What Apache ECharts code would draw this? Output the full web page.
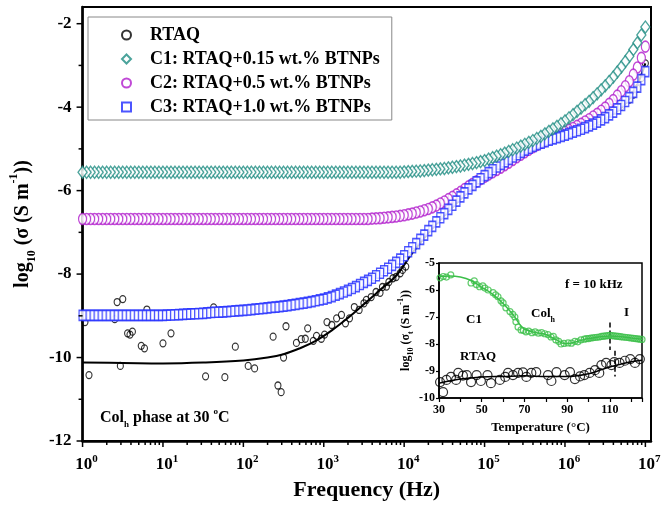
<!DOCTYPE html>
<html><head><meta charset="utf-8">
<script src="https://cdn.jsdelivr.net/npm/echarts@6/dist/echarts.min.js"></script>
<style>html,body{margin:0;padding:0;background:#fff}#c{width:664px;height:507px}</style>
</head><body><div id="c"></div>
<script>
// ---------- main plot data (x = log10 frequency) ----------
const logFreq = [0.00,0.05,0.10,0.15,0.20,0.25,0.30,0.35,0.40,0.45,0.50,0.55,0.60,0.65,0.70,0.75,0.80,0.85,0.90,0.95,
 1.00,1.05,1.10,1.15,1.20,1.25,1.30,1.35,1.40,1.45,1.50,1.55,1.60,1.65,1.70,1.75,1.80,1.85,1.90,1.95,
 2.00,2.05,2.10,2.15,2.20,2.25,2.30,2.35,2.40,2.45,2.50,2.55,2.60,2.65,2.70,2.75,2.80,2.85,2.90,2.95,
 3.00,3.05,3.10,3.15,3.20,3.25,3.30,3.35,3.40,3.45,3.50,3.55,3.60,3.65,3.70,3.75,3.80,3.85,3.90,3.95,
 4.00,4.05,4.10,4.15,4.20,4.25,4.30,4.35,4.40,4.45,4.50,4.55,4.60,4.65,4.70,4.75,4.80,4.85,4.90,4.95,
 5.00,5.05,5.10,5.15,5.20,5.25,5.30,5.35,5.40,5.45,5.50,5.55,5.60,5.65,5.70,5.75,5.80,5.85,5.90,5.95,
 6.00,6.05,6.10,6.15,6.20,6.25,6.30,6.35,6.40,6.45,6.50,6.55,6.60,6.65,6.70,6.75,6.80,6.85,6.90,6.95,7.00];
const c1Vals = [-5.56,-5.56,-5.56,-5.56,-5.56,-5.56,-5.56,-5.56,-5.56,-5.56,-5.56,-5.56,-5.56,-5.56,-5.56,-5.56,-5.56,-5.56,-5.56,-5.56,
 -5.56,-5.56,-5.56,-5.56,-5.56,-5.56,-5.56,-5.56,-5.56,-5.56,-5.56,-5.56,-5.56,-5.56,-5.56,-5.56,-5.56,-5.56,-5.56,-5.56,
 -5.56,-5.56,-5.56,-5.56,-5.56,-5.56,-5.56,-5.56,-5.56,-5.56,-5.56,-5.56,-5.56,-5.56,-5.56,-5.56,-5.56,-5.56,-5.56,-5.56,
 -5.56,-5.56,-5.56,-5.56,-5.56,-5.56,-5.56,-5.56,-5.56,-5.56,-5.56,-5.56,-5.56,-5.56,-5.56,-5.56,-5.56,-5.56,-5.56,-5.56,
 -5.55,-5.545,-5.54,-5.535,-5.53,-5.52,-5.51,-5.50,-5.49,-5.48,-5.47,-5.455,-5.44,-5.425,-5.41,-5.39,-5.37,-5.35,-5.33,-5.305,
 -5.28,-5.245,-5.21,-5.175,-5.14,-5.10,-5.06,-5.02,-4.98,-4.935,-4.89,-4.845,-4.80,-4.75,-4.70,-4.64,-4.58,-4.52,-4.46,-4.395,
 -4.33,-4.255,-4.18,-4.10,-4.02,-3.94,-3.86,-3.77,-3.68,-3.585,-3.49,-3.385,-3.28,-3.16,-3.04,-2.91,-2.78,-2.62,-2.46,-2.27,-2.08];
const c2Vals = [-6.68,-6.68,-6.68,-6.68,-6.68,-6.68,-6.68,-6.68,-6.68,-6.68,-6.68,-6.68,-6.68,-6.68,-6.68,-6.68,-6.68,-6.68,-6.68,-6.68,
 -6.68,-6.68,-6.68,-6.68,-6.68,-6.68,-6.68,-6.68,-6.68,-6.68,-6.68,-6.68,-6.68,-6.68,-6.68,-6.68,-6.68,-6.68,-6.68,-6.68,
 -6.68,-6.68,-6.68,-6.68,-6.68,-6.68,-6.68,-6.68,-6.68,-6.68,-6.68,-6.68,-6.68,-6.68,-6.68,-6.68,-6.68,-6.68,-6.68,-6.68,
 -6.68,-6.68,-6.68,-6.68,-6.68,-6.68,-6.68,-6.68,-6.68,-6.68,-6.68,-6.68,-6.67,-6.665,-6.66,-6.65,-6.64,-6.63,-6.62,-6.605,
 -6.59,-6.57,-6.55,-6.525,-6.50,-6.47,-6.44,-6.40,-6.36,-6.31,-6.26,-6.205,-6.15,-6.09,-6.03,-5.965,-5.90,-5.84,-5.78,-5.725,
 -5.67,-5.615,-5.56,-5.505,-5.45,-5.39,-5.33,-5.265,-5.20,-5.14,-5.08,-5.02,-4.96,-4.91,-4.86,-4.815,-4.77,-4.725,-4.68,-4.635,
 -4.59,-4.545,-4.50,-4.45,-4.40,-4.345,-4.29,-4.225,-4.16,-4.085,-4.01,-3.92,-3.83,-3.725,-3.62,-3.50,-3.38,-3.22,-3.05,-2.82,-2.55];
const c3Vals = [-8.99,-8.99,-8.99,-8.99,-8.99,-8.99,-8.99,-8.99,-8.99,-8.99,-8.99,-8.99,-8.99,-8.99,-8.99,-8.99,-8.99,-8.99,-8.99,-8.99,
 -8.99,-8.985,-8.98,-8.975,-8.97,-8.965,-8.96,-8.955,-8.95,-8.945,-8.94,-8.93,-8.92,-8.915,-8.91,-8.905,-8.90,-8.89,-8.88,-8.875,
 -8.87,-8.86,-8.85,-8.84,-8.83,-8.82,-8.81,-8.80,-8.79,-8.78,-8.77,-8.755,-8.74,-8.725,-8.71,-8.695,-8.68,-8.66,-8.64,-8.62,
 -8.60,-8.57,-8.54,-8.505,-8.47,-8.43,-8.39,-8.345,-8.30,-8.25,-8.20,-8.15,-8.10,-8.04,-7.98,-7.92,-7.86,-7.79,-7.72,-7.64,
 -7.56,-7.465,-7.37,-7.27,-7.17,-7.065,-6.96,-6.855,-6.75,-6.65,-6.55,-6.45,-6.35,-6.25,-6.15,-6.055,-5.96,-5.875,-5.79,-5.715,
 -5.64,-5.57,-5.50,-5.435,-5.37,-5.31,-5.25,-5.195,-5.14,-5.085,-5.03,-4.985,-4.94,-4.90,-4.86,-4.825,-4.79,-4.76,-4.73,-4.70,
 -4.67,-4.635,-4.60,-4.565,-4.53,-4.49,-4.45,-4.405,-4.36,-4.305,-4.25,-4.185,-4.12,-4.04,-3.96,-3.865,-3.77,-3.645,-3.52,-3.34,-3.15];
const rtaqLogF = [0.03,0.08,0.40,0.43,0.50,0.47,0.56,0.62,0.59,0.73,0.77,0.80,1.00,1.10,1.53,1.63,1.77,1.90,2.06,2.14,2.37,2.43,2.47,2.50,2.53,2.66,2.72,2.77,2.80,2.87,2.91,2.97,3.01,3.04,3.10,3.16,3.22,3.27,3.32,3.38,3.44,3.50,3.53,3.59,3.65,3.70,3.73,3.78,3.81,3.86,3.90,3.95,3.98,4.02,6.70,6.80,6.85,6.90,6.95,7.00];
const rtaqVals = [-9.15,-10.42,-9.08,-8.67,-8.60,-10.20,-9.42,-9.38,-9.45,-9.72,-9.78,-8.85,-9.66,-9.42,-10.45,-8.80,-10.47,-9.74,-10.20,-10.26,-9.50,-10.67,-10.83,-10.00,-9.25,-9.65,-9.56,-9.55,-9.30,-9.60,-9.48,-9.55,-9.45,-9.15,-9.22,-9.06,-8.98,-9.18,-9.06,-8.79,-8.86,-8.70,-8.62,-8.55,-8.43,-8.45,-8.31,-8.30,-8.19,-8.10,-8.07,-7.98,-7.90,-7.82,-3.98,-3.82,-3.70,-3.55,-3.30,-2.95];
const rtaqFitLogF = [0,0.5,1.0,1.5,2.0,2.3,2.5,2.7,2.9,3.1,3.3,3.5,3.7,3.9,4.1,4.3,4.5,4.8,5.0,5.5,6.0,6.5,6.8,7.0];
const rtaqFitVals = [-10.12,-10.13,-10.14,-10.12,-10.07,-10.0,-9.92,-9.78,-9.6,-9.35,-9.05,-8.72,-8.38,-8.04,-7.5,-7.02,-6.6,-6.02,-5.7,-5.08,-4.7,-4.28,-3.8,-2.95];
const xTickDecades = [0,1,2,3,4,5,6,7];
const yTickValues = [-12,-10,-8,-6,-4,-2];
const yMinorValues = [-11,-9,-7,-5,-3];

// ---------- inset data (x = temperature) ----------
const insetC1T = [30.5,32,33.5,35.5,45,46.5,47.5,49,50.5,51.5,53,55.3,56.5,57.6,59,60,61.3,63.2,64.5,65.5,66,67,68.4,69.5,70.7,72,73.5,75,76.5,78,79.5,81,82.4,83.5,84.7,86,87.1,88.5,90.4,92,93.6,95,96.4,98,99,100,101,102,103,104,105,106,107,108,109,110,111,112,113,114,115,116,117,118,119,120,121,122,123,124,125];
const insetC1V = [-5.55,-5.5,-5.52,-5.44,-5.74,-5.66,-5.8,-5.88,-5.85,-5.93,-6.0,-6.1,-6.18,-6.25,-6.4,-6.48,-6.66,-6.8,-6.9,-7.0,-7.18,-7.37,-7.48,-7.5,-7.55,-7.52,-7.58,-7.55,-7.6,-7.58,-7.62,-7.65,-7.74,-7.72,-7.85,-7.9,-8.0,-7.98,-7.96,-7.97,-7.9,-7.92,-7.85,-7.82,-7.8,-7.8,-7.78,-7.77,-7.76,-7.75,-7.74,-7.72,-7.71,-7.7,-7.69,-7.68,-7.69,-7.7,-7.71,-7.72,-7.73,-7.74,-7.75,-7.76,-7.77,-7.78,-7.79,-7.8,-7.81,-7.82,-7.83];
const insetC1FitT = [30,35,40,45,50,55,60,65,68,70,75,80,85,88,90,95,100,110,120,125];
const insetC1FitV = [-5.5,-5.48,-5.52,-5.65,-5.9,-6.15,-6.5,-6.95,-7.3,-7.45,-7.57,-7.65,-7.85,-7.97,-7.98,-7.9,-7.8,-7.7,-7.78,-7.82];
const insetRtaqT = [30.5,31.9,33.5,35.6,38,39,41.2,43,45,47.6,49.6,52.7,54.3,58.5,61,62.3,64.6,67,69.3,70.9,73.2,75.5,81,82.6,85,88.8,91.3,93.6,96,98,100.5,103,105,106,108.2,110.7,112,114.5,117,119.5,121.7,124];
const insetRtaqV = [-9.41,-9.78,-9.33,-9.22,-9.33,-9.07,-9.17,-9.15,-9.41,-9.15,-9.37,-9.15,-9.45,-9.33,-9.22,-9.07,-9.15,-9.07,-9.05,-9.22,-9.07,-9.04,-9.15,-9.37,-9.04,-9.15,-9.04,-9.3,-9.2,-9.15,-9.07,-8.97,-9.07,-8.78,-8.7,-8.78,-8.67,-8.7,-8.62,-8.56,-8.7,-8.56];
const insetRtaqFitT = [30,40,50,60,70,80,90,100,105,110,115,120,125];
const insetRtaqFitV = [-9.45,-9.3,-9.22,-9.2,-9.18,-9.2,-9.2,-9.1,-8.98,-8.85,-8.75,-8.66,-8.6];

const names = ['RTAQ','C1: RTAQ+0.15 wt.% BTNPs','C2: RTAQ+0.5 wt.% BTNPs','C3: RTAQ+1.0 wt.% BTNPs'];
const colors = {rtaq:'#000000', c1:'#1e8c82', c2:'#b01ccc', c3:'#1f2bff', green:'#3cbf4a'};

const FF = "'Liberation Serif','Times New Roman',serif";
const pair = (xs, ys) => xs.map((x, i) => [x, ys[i]]);
// measured as a high-to-low frequency sweep: draw in that order
const sweep = (xs, ys) => pair(xs, ys).reverse();

// tick positions (axis decoration, not data)
const xMinorTicks = [];
xTickDecades.slice(0, 7).forEach(n => { for (let k = 2; k <= 9; k++) xMinorTicks.push([n + Math.log10(k), 4]); });
const xMajorTicks = xTickDecades.map(n => [n, 6]);
const yTicks = yTickValues.map(v => [0, v, 6]).concat(yMinorValues.map(v => [0, v, 4]));

const chart = echarts.init(document.getElementById('c'));
const hollow = (c, w) => ({color: 'rgba(0,0,0,0)', borderColor: c, borderWidth: w});
const open = (c, w) => ({color: '#ffffff', borderColor: c, borderWidth: w});

chart.setOption({
  animation: false,
  backgroundColor: '#fff',
  grid: [
    {left: 81, top: 7, right: 13, bottom: 66, show: true, borderColor: '#000', borderWidth: 2, backgroundColor: 'transparent'},
    {left: 439, top: 263, right: 22, bottom: 109, show: true, borderColor: '#000', borderWidth: 1.5, backgroundColor: '#fff', z: 5}
  ],
  xAxis: [
    {type: 'value', gridIndex: 0, min: 0, max: 7.07, interval: 1,
     axisLine: {show: true, onZero: false, lineStyle: {color: '#000', width: 2.5}},
     axisTick: {show: false}, splitLine: {show: false},
     axisLabel: {margin: 13, padding: [0, 0, 0, 8],
       formatter: v => Math.abs(v - Math.round(v)) < 1e-6 ? '{b|10}{p|' + Math.round(v) + '}' : '',
       rich: {b: {fontFamily: FF, fontWeight: 'bold', fontSize: 17, lineHeight: 22, color: '#000'},
              p: {fontFamily: FF, fontWeight: 'bold', fontSize: 11, lineHeight: 11, verticalAlign: 'top', color: '#000'}}},
     name: 'Frequency (Hz)', nameLocation: 'middle', nameGap: 38,
     nameTextStyle: {fontFamily: FF, fontWeight: 'bold', fontSize: 22, color: '#000'}},
    {type: 'value', gridIndex: 1, min: 30, max: 125, interval: 10, z: 6,
     axisLine: {show: true, onZero: false, lineStyle: {color: '#000', width: 1.5}},
     axisTick: {show: true, length: 4, lineStyle: {color: '#000', width: 1.2}},
     splitLine: {show: false},
     axisLabel: {margin: 6, fontFamily: FF, fontWeight: 'bold', fontSize: 12, color: '#000',
       formatter: v => ((v - 30) % 20 === 0 && v <= 110) ? String(v) : ''},
     name: 'Temperature (°C)', nameLocation: 'middle', nameGap: 23,
     nameTextStyle: {fontFamily: FF, fontWeight: 'bold', fontSize: 13, color: '#000'}}
  ],
  yAxis: [
    {type: 'value', gridIndex: 0, min: -12, max: -1.6, interval: 2,
     axisLine: {show: true, onZero: false, lineStyle: {color: '#000', width: 2.5}},
     axisTick: {show: false}, splitLine: {show: false},
     axisLabel: {margin: 11, fontFamily: FF, fontWeight: 'bold', fontSize: 17, color: '#000',
       formatter: v => (Math.abs(v % 2) < 1e-6) ? String(v) : ''},
     name: 'log{s|10} (σ (S m{p|-1}))', nameLocation: 'middle', nameGap: 35,
     nameTextStyle: {fontFamily: FF, fontWeight: 'bold', fontSize: 20, lineHeight: 30, color: '#000',
       rich: {s: {fontFamily: FF, fontWeight: 'bold', fontSize: 12, lineHeight: 12, verticalAlign: 'bottom', color: '#000'},
              p: {fontFamily: FF, fontWeight: 'bold', fontSize: 12, lineHeight: 12, verticalAlign: 'top', color: '#000'}}}},
    {type: 'value', gridIndex: 1, min: -10, max: -5, interval: 1, z: 6,
     axisLine: {show: true, onZero: false, lineStyle: {color: '#000', width: 1.5}},
     axisTick: {show: true, length: 3, lineStyle: {color: '#000', width: 1.2}},
     splitLine: {show: false},
     axisLabel: {margin: 4, fontFamily: FF, fontWeight: 'bold', fontSize: 12, color: '#000'},
     name: 'log{s|10} (σ{t|t} (S m{p|-1}))', nameLocation: 'middle', nameGap: 22,
     nameTextStyle: {fontFamily: FF, fontWeight: 'bold', fontSize: 12, lineHeight: 18, color: '#000',
       rich: {s: {fontFamily: FF, fontWeight: 'bold', fontSize: 8, lineHeight: 8, verticalAlign: 'bottom', color: '#000'},
              t: {fontFamily: FF, fontWeight: 'bold', fontSize: 8, lineHeight: 8, verticalAlign: 'bottom', color: '#000'},
              p: {fontFamily: FF, fontWeight: 'bold', fontSize: 8, lineHeight: 8, verticalAlign: 'top', color: '#000'}}}}
  ],
  legend: {
    data: names, orient: 'vertical', left: 88, top: 17,
    padding: [8, 12, 3, 33], itemGap: 4, itemWidth: 9, itemHeight: 9,
    borderColor: '#888', borderWidth: 1, backgroundColor: '#fff',
    textStyle: {fontFamily: FF, fontWeight: 'bold', fontSize: 18, lineHeight: 20, color: '#000', padding: [0, 0, 0, 14]}
  },
  graphic: [
    {type: 'text', left: 100, top: 407, z: 20,
     style: {text: 'Col{s|h} phase at 30 {p|o}C', fontFamily: FF, fontWeight: 'bold', fontSize: 16, fill: '#000',
       rich: {s: {fontFamily: FF, fontWeight: 'bold', fontSize: 9, lineHeight: 22, verticalAlign: 'bottom', fill: '#000'},
              p: {fontFamily: FF, fontWeight: 'bold', fontSize: 9, lineHeight: 22, verticalAlign: 'top', fill: '#000'}}}},
    {type: 'text', left: 565, top: 278, z: 20,
     style: {text: 'f = 10 kHz', fontFamily: FF, fontWeight: 'bold', fontSize: 13, fill: '#000'}},
    {type: 'text', left: 466, top: 313, z: 20,
     style: {text: 'C1', fontFamily: FF, fontWeight: 'bold', fontSize: 13, fill: '#000'}},
    {type: 'text', left: 531, top: 307, z: 20,
     style: {text: 'Col{s|h}', fontFamily: FF, fontWeight: 'bold', fontSize: 13, fill: '#000',
       rich: {s: {fontFamily: FF, fontWeight: 'bold', fontSize: 8, lineHeight: 20, verticalAlign: 'bottom', fill: '#000'}}}},
    {type: 'text', left: 624, top: 306, z: 20,
     style: {text: 'I', fontFamily: FF, fontWeight: 'bold', fontSize: 13, fill: '#000'}},
    {type: 'text', left: 460, top: 350, z: 20,
     style: {text: 'RTAQ', fontFamily: FF, fontWeight: 'bold', fontSize: 13, fill: '#000'}}
  ],
  series: [
    // main axis ticks (decoration through the library's scales)
    {type: 'custom', name: 'xticks', xAxisIndex: 0, yAxisIndex: 0, clip: false, silent: true, z: 8,
     data: xMajorTicks.concat(xMinorTicks), encode: {x: 0},
     renderItem: (params, api) => { const p = api.coord([api.value(0), -12]);
       return {type: 'line', shape: {x1: p[0], y1: p[1], x2: p[0], y2: p[1] + api.value(1)}, style: {stroke: '#000', lineWidth: 1.5}}; }},
    {type: 'custom', name: 'yticks', xAxisIndex: 0, yAxisIndex: 0, clip: false, silent: true, z: 8,
     data: yTicks, encode: {x: 0, y: 1},
     renderItem: (params, api) => { const p = api.coord([0, api.value(1)]);
       return {type: 'line', shape: {x1: p[0] - api.value(2), y1: p[1], x2: p[0], y2: p[1]}, style: {stroke: '#000', lineWidth: 1.5}}; }},
    {type: 'line', name: 'RTAQ fit', xAxisIndex: 0, yAxisIndex: 0, data: pair(rtaqFitLogF, rtaqFitVals),
     showSymbol: false, symbol: 'none', smooth: 0.4, lineStyle: {color: '#000', width: 2}, z: 2, silent: true},
    {type: 'scatter', name: names[0], xAxisIndex: 0, yAxisIndex: 0, data: pair(rtaqLogF, rtaqVals),
     symbol: 'circle', symbolSize: [6, 7], itemStyle: hollow(colors.rtaq, 1.2), z: 2},
    {type: 'scatter', name: names[2], xAxisIndex: 0, yAxisIndex: 0, data: sweep(logFreq, c2Vals),
     symbol: 'circle', symbolSize: [8, 11], itemStyle: open(colors.c2, 1.4), z: 3},
    {type: 'scatter', name: names[3], xAxisIndex: 0, yAxisIndex: 0, data: sweep(logFreq, c3Vals),
     symbol: 'rect', symbolSize: [7, 10], itemStyle: open(colors.c3, 1.4), z: 4},
    {type: 'scatter', name: names[1], xAxisIndex: 0, yAxisIndex: 0, data: sweep(logFreq, c1Vals),
     symbol: 'diamond', symbolSize: [9, 12], itemStyle: open(colors.c1, 1.4), z: 4},
    // inset
    {type: 'line', name: 'C1 inset fit', xAxisIndex: 1, yAxisIndex: 1, data: pair(insetC1FitT, insetC1FitV),
     symbol: 'none', smooth: 0.4, lineStyle: {color: colors.green, width: 1.5}, z: 10, silent: true,
     markLine: {silent: true, symbol: 'none', label: {show: false},
       lineStyle: {color: '#000', width: 1.5, type: [5, 3]},
       data: [[{coord: [110, -7.2]}, {coord: [110, -8.22]}], [{coord: [112.2, -8.25]}, {coord: [112.2, -9.2]}]]}},
    {type: 'scatter', name: 'C1 inset', xAxisIndex: 1, yAxisIndex: 1, data: pair(insetC1T, insetC1V),
     symbol: 'circle', symbolSize: 6, itemStyle: hollow(colors.green, 1.2), z: 10},
    {type: 'line', name: 'RTAQ inset fit', xAxisIndex: 1, yAxisIndex: 1, data: pair(insetRtaqFitT, insetRtaqFitV),
     symbol: 'none', smooth: 0.4, lineStyle: {color: '#000', width: 1.5}, z: 10, silent: true},
    {type: 'scatter', name: 'RTAQ inset', xAxisIndex: 1, yAxisIndex: 1, data: pair(insetRtaqT, insetRtaqV),
     symbol: 'circle', symbolSize: 9, itemStyle: hollow('#000', 1.2), z: 10}
  ]
});
</script></body></html>
